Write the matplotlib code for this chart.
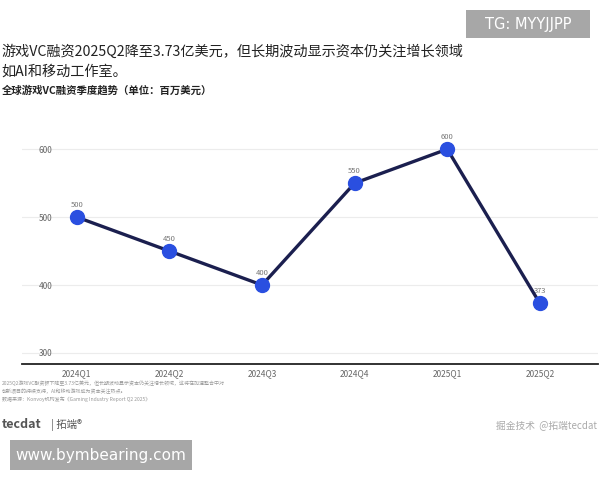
import matplotlib.pyplot as plt
from matplotlib.patches import Rectangle

plt.rcParams['font.family'] = ['Noto Sans CJK SC', 'DejaVu Sans']

quarters = ['2024Q1', '2024Q2', '2024Q3', '2024Q4', '2025Q1', '2025Q2']
funding = [500, 450, 400, 550, 600, 373]
yticks = [300, 400, 500, 600]

title = '游戏VC融资2025Q2降至3.73亿美元，但长期波动显示资本仍关注增长领域\n如AI和移动工作室。'
subtitle = '全球游戏VC融资季度趋势（单位：百万美元）'
note = ('2025Q2游戏VC融资额下降至3.73亿美元，但长期波动显示资本仍关注增长领域，这将在加速整合中对\n'
        '创新项目的持续支持，AI和移动游戏成为资本关注热点。\n'
        '数据来源：Konvoy机构发布《Gaming Industry Report Q2 2025》')

fig = plt.figure(figsize=(6, 4.8), dpi=100)
ax = fig.add_axes([0.037, 0.242, 0.96, 0.518])

x = range(len(quarters))
ax.plot(x, funding, color='#1b1f4f', lw=2.4, zorder=2)
ax.scatter(x, funding, s=100, color='#2a4fe0', zorder=3)
for i, v in zip(x, funding):
    ax.annotate(str(v), (i, v), xytext=(0, 6), textcoords='offset points',
                ha='center', va='bottom', fontsize=5.5, color='#777777', zorder=1)

ax.set_xlim(-0.59, 5.63)
ax.set_ylim(284, 650)
ax.set_yticks(yticks)
ax.set_xticks(list(x))
ax.set_xticklabels(quarters)
ax.tick_params(axis='both', length=0, labelsize=6, colors='#666666')
ax.tick_params(axis='y', pad=-12)
for lab in ax.get_yticklabels():
    lab.set_horizontalalignment('left')
ax.grid(axis='y', color='#ececec', lw=0.8)
ax.set_axisbelow(True)
for s in ['top', 'right', 'left']:
    ax.spines[s].set_visible(False)
ax.spines['bottom'].set_color('#222222')
ax.spines['bottom'].set_linewidth(1.3)

fig.text(0.003, 0.872, title, fontsize=10.2, color='#222222', va='center', linespacing=1.5)
fig.text(0.003, 0.812, subtitle, fontsize=7.5, fontweight='bold', color='#222222', va='center')
fig.text(0.003, 0.185, note, fontsize=3.6, color='#999999', va='center', linespacing=1.6)

fig.text(0.003, 0.115, 'tecdat', fontsize=9, color='#555555', va='center', fontweight='bold')
fig.text(0.085, 0.115, '| 拓端®', fontsize=7.5, color='#555555', va='center')
fig.text(0.995, 0.115, '掘金技术  @拓端tecdat', fontsize=7, color='#aaaaaa', va='center', ha='right')

fig.add_artist(Rectangle((0.017, 0.021), 0.303, 0.062, transform=fig.transFigure,
                         color='#a7a7a7', lw=0))
fig.text(0.168, 0.052, 'www.bymbearing.com', fontsize=11, color='white', ha='center', va='center',
         family='DejaVu Sans')
fig.add_artist(Rectangle((0.777, 0.921), 0.206, 0.058, transform=fig.transFigure,
                         color='#a7a7a7', lw=0))
fig.text(0.88, 0.95, 'TG: MYYJJPP', fontsize=10.5, color='white', ha='center', va='center',
         family='DejaVu Sans')

fig.savefig('out.png', dpi=100, facecolor='white')
